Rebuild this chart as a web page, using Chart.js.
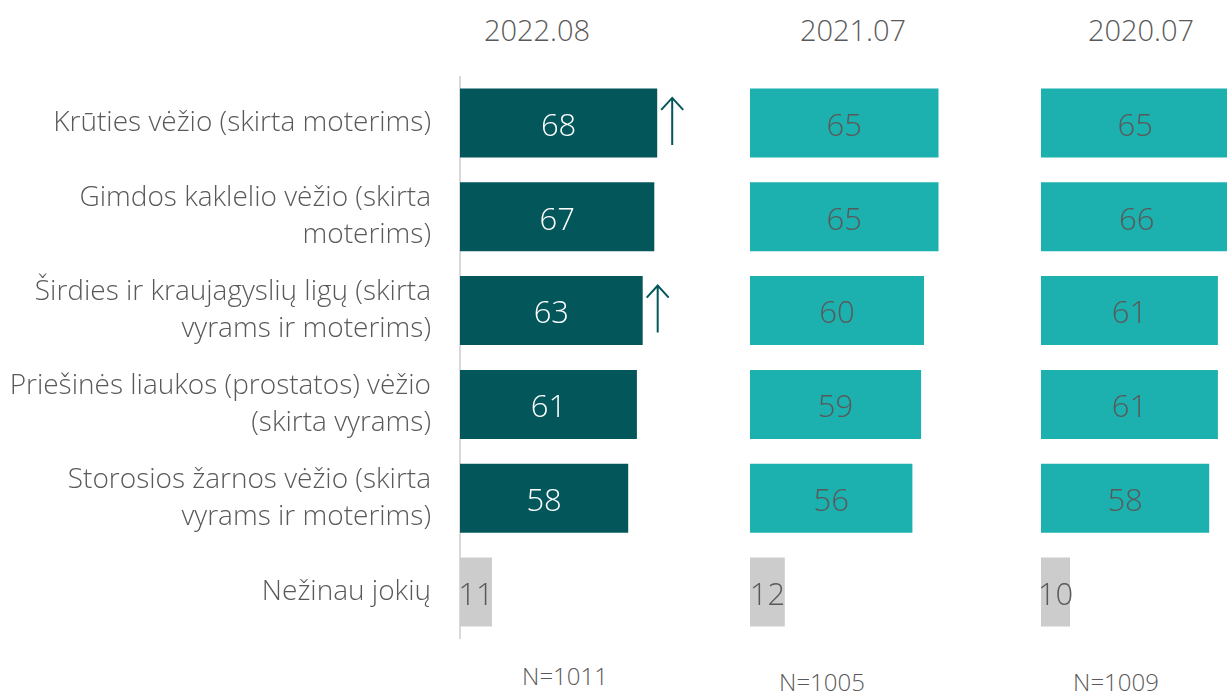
<!DOCTYPE html>
<html>
<head>
<meta charset="utf-8">
<script src="https://cdn.jsdelivr.net/npm/chart.js@4"></script>
<style>
    html, body { margin: 0; padding: 0; overflow: hidden; background: #fff; }
    body { width: 1227px; height: 692px; position: relative; font-family: "Open Sans", sans-serif; font-weight: 300; color: #595959; }
    .box { position: absolute; line-height: 0; }
    .lbl { position: absolute; transform: translate(-50%, -50%); white-space: nowrap; }
    .title { font-size: 29px; }
    .nlbl { font-size: 24px; }
</style>
</head>
<body>
<div class="box" style="left:0px;top:76px;"><canvas id="chart1" width="750" height="563"></canvas></div>
<div class="box" style="left:750px;top:76px;"><canvas id="chart2" width="290" height="563"></canvas></div>
<div class="box" style="left:1041px;top:76px;"><canvas id="chart3" width="290" height="563"></canvas></div>
<div id="texts"></div>
<script>
// Categories (multi-line labels as arrays)
const categories = [
    ["Krūties vėžio (skirta moterims)"],
    ["Gimdos kaklelio vėžio (skirta", "moterims)"],
    ["Širdies ir kraujagyslių ligų (skirta", "vyrams ir moterims)"],
    ["Priešinės liaukos (prostatos) vėžio", "(skirta vyrams)"],
    ["Storosios žarnos vėžio (skirta", "vyrams ir moterims)"],
    ["Nežinau jokių"]
]
// Values per wave
const values2022 = [68, 67, 63, 61, 58, 11]
const values2021 = [65, 65, 60, 59, 56, 12]
const values2020 = [65, 66, 61, 61, 58, 10]
// Significant increase markers (2022 vs 2021)
const arrows2022 = [true, false, true, false, false, false]
// Panel titles and sample sizes
const panelTitles = ["2022.08", "2021.07", "2020.07"]
const sampleSizes = ["N=1011", "N=1005", "N=1009"]

const FONT = "'Open Sans', sans-serif"
const GREY_TEXT = "#595959"
const DARK_TEAL = "#03575b"
const LIGHT_TEAL = "#1cb0ae"
const NONE_GREY = "#cccccc"

// Titles & N labels (HTML text)
const titlePos = [[537, 29], [853, 29], [1141, 29]]
const nPos = [[565, 675], [822, 681], [1116, 681]]
const texts = document.getElementById("texts")
panelTitles.forEach((t, i) => {
    let d = document.createElement("div")
    d.className = "lbl title"
    d.style.left = titlePos[i][0] + "px"
    d.style.top = titlePos[i][1] + "px"
    d.textContent = t
    texts.appendChild(d)
})
sampleSizes.forEach((t, i) => {
    let d = document.createElement("div")
    d.className = "lbl nlbl"
    d.style.left = nPos[i][0] + "px"
    d.style.top = nPos[i][1] + "px"
    d.textContent = t
    texts.appendChild(d)
})

// Plugin: value labels centered in bars + up arrows
const barLabels = {
    id: "barLabels",
    afterDatasetsDraw(chart) {
        const ctx = chart.ctx
        const ds = chart.data.datasets[0]
        const meta = chart.getDatasetMeta(0)
        ctx.save()
        meta.data.forEach((bar, i) => {
            const cx = (bar.base + bar.x) / 2
            ctx.font = "300 31px " + FONT
            ctx.textAlign = "center"
            ctx.textBaseline = "middle"
            ctx.fillStyle = ds.labelColors[i]
            ctx.fillText(ds.data[i], cx, bar.y + 4)
            if (ds.arrows && ds.arrows[i]) {
                const ax = bar.x + 15
                const top = bar.y - 25
                const bottom = bar.y + 22
                ctx.strokeStyle = DARK_TEAL
                ctx.lineWidth = 2
                ctx.beginPath()
                ctx.moveTo(ax, bottom)
                ctx.lineTo(ax, top)
                ctx.moveTo(ax - 11, top + 12)
                ctx.lineTo(ax, top)
                ctx.lineTo(ax + 11, top + 12)
                ctx.stroke()
            }
        })
        ctx.restore()
    }
}

function makeChart(id, values, mainColor, mainLabelColor, arrows, showAxis) {
    const colors = values.map((v, i) => i === values.length - 1 ? NONE_GREY : mainColor)
    const labelColors = values.map((v, i) => i === values.length - 1 ? GREY_TEXT : mainLabelColor)
    return new Chart(document.getElementById(id).getContext("2d"), {
        type: "bar",
        data: {
            labels: categories,
            datasets: [{
                data: values,
                backgroundColor: colors,
                labelColors: labelColors,
                arrows: arrows,
                barPercentage: 0.735,
                categoryPercentage: 1
            }]
        },
        options: {
            indexAxis: "y",
            responsive: false,
            animation: false,
            layout: { padding: 0 },
            scales: {
                x: { display: false, min: 0, max: 100 },
                y: {
                    display: showAxis,
                    grid: { display: false },
                    border: { display: true, color: "#d9d9d9", width: 2 },
                    afterFit: s => {
                        if (!showAxis) return
                        // fixed label column, no extra vertical margins
                        s.width = 460
                        s.paddingTop = 0
                        s.paddingBottom = 0
                    },
                    ticks: {
                        autoSkip: false,
                        padding: 21,
                        color: GREY_TEXT,
                        font: { family: FONT, size: 28, weight: 300, lineHeight: 1.32 }
                    }
                }
            },
            plugins: {
                legend: { display: false },
                tooltip: { enabled: false }
            }
        },
        plugins: [barLabels]
    })
}

makeChart("chart1", values2022, DARK_TEAL, "#ffffff", arrows2022, true)
makeChart("chart2", values2021, LIGHT_TEAL, GREY_TEXT, null, false)
makeChart("chart3", values2020, LIGHT_TEAL, GREY_TEXT, null, false)
</script>
</body>
</html>
